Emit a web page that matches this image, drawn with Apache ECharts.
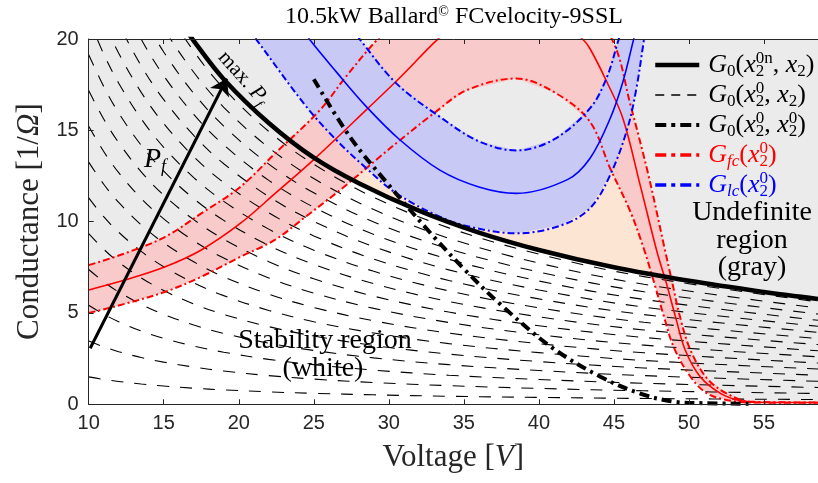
<!DOCTYPE html>
<html>
<head>
<meta charset="utf-8">
<script src="https://cdn.jsdelivr.net/npm/echarts@6.0.0/dist/echarts.min.js"></script>
<style>
  html, body { margin: 0; padding: 0; background: #fff; }
  #chart { width: 818px; height: 483px; }
</style>
</head>
<body>
<div id="chart"></div>
<script>
// ---- data ----
// family G0(x2^0, x2): one row per curve, sampled at famVolt
const famVolt = [10, 11, 12, 13.5, 15, 17, 19, 22, 25, 29, 34, 40, 47, 58.6]
const famRows = [
  [1.5, 1.36, 1.25, 1.11, 1.0, 0.88, 0.79, 0.68, 0.6, 0.52, 0.44, 0.38, 0.32, 0.26],
  [3.46, 3.15, 2.88, 2.56, 2.31, 2.04, 1.82, 1.57, 1.38, 1.19, 1.02, 0.87, 0.74, 0.59],
  [5.42, 4.93, 4.52, 4.01, 3.61, 3.19, 2.85, 2.46, 2.17, 1.87, 1.59, 1.36, 1.15, 0.92],
  [7.38, 6.71, 6.15, 5.47, 4.92, 4.34, 3.88, 3.35, 2.95, 2.54, 2.17, 1.85, 1.57, 1.26],
  [9.34, 8.49, 7.78, 6.92, 6.23, 5.49, 4.92, 4.25, 3.74, 3.22, 2.75, 2.34, 1.99, 1.59],
  [11.3, 10.27, 9.42, 8.37, 7.53, 6.65, 5.95, 5.14, 4.52, 3.9, 3.32, 2.83, 2.4, 1.93],
  [13.26, 12.05, 11.05, 9.82, 8.84, 7.8, 6.98, 6.03, 5.3, 4.57, 3.9, 3.32, 2.82, 2.26],
  [15.22, 13.84, 12.68, 11.27, 10.15, 8.95, 8.01, 6.92, 6.09, 5.25, 4.48, 3.81, 3.24, 2.6],
  [17.18, 15.62, 14.32, 12.73, 11.45, 10.11, 9.04, 7.81, 6.87, 5.92, 5.05, 4.3, 3.66, 2.93],
  [19.14, 17.4, 15.95, 14.18, 12.76, 11.26, 10.07, 8.7, 7.66, 6.6, 5.63, 4.79, 4.07, 3.27],
  [21.1, 19.18, 17.58, 15.63, 14.07, 12.41, 11.11, 9.59, 8.44, 7.28, 6.21, 5.28, 4.49, 3.6],
  [23.06, 20.96, 19.22, 17.08, 15.37, 13.56, 12.14, 10.48, 9.22, 7.95, 6.78, 5.77, 4.91, 3.94],
  [25.02, 22.75, 20.85, 18.53, 16.68, 14.72, 13.17, 11.37, 10.01, 8.63, 7.36, 6.26, 5.32, 4.27],
  [26.98, 24.53, 22.48, 19.99, 17.99, 15.87, 14.2, 12.26, 10.79, 9.3, 7.94, 6.75, 5.74, 4.6],
  [28.94, 26.31, 24.12, 21.44, 19.29, 17.02, 15.23, 13.15, 11.58, 9.98, 8.51, 7.24, 6.16, 4.94],
  [30.9, 28.09, 25.75, 22.89, 20.6, 18.18, 16.26, 14.05, 12.36, 10.66, 9.09, 7.73, 6.57, 5.27],
  [32.86, 29.87, 27.38, 24.34, 21.91, 19.33, 17.29, 14.94, 13.14, 11.33, 9.66, 8.22, 6.99, 5.61]
]

// G0(x2^0n, x2) - max power curve
const g0nVolt = [10, 12, 14, 16, 17, 19, 22, 25, 28, 32, 36, 40, 45, 50, 55, 58.6]
const g0nVal = [33.8, 28.2, 24.1, 21.1, 19.9, 17.8, 15.4, 13.5, 12.1, 10.6, 9.4, 8.45, 7.5, 6.76, 6.15, 5.77]

// G0(x2^0, x2^0)
const g00Volt = [25, 27.4, 29.9, 33, 35.2, 37.4, 40.8, 44.1, 46.7, 49, 51, 54.3]
const g00Val = [17.8, 14.65, 12.1, 9.17, 7.25, 5.5, 3.15, 1.51, 0.6, 0.14, 0.06, 0.03]

// Gfc(x2^0): lower bound, nominal, upper bound
const fcLowVolt = [10, 12.4, 15.1, 17.5, 20, 22.4, 24.5, 26.75, 29.4, 30.8, 33, 35.2, 38.5, 41.2, 43.4, 44.75, 46.1, 47, 47.7, 48.3, 49, 50.1, 51.2, 52.5, 54, 58.6]
const fcLowVal = [5.0, 5.5, 6.16, 6.98, 8.03, 9.0, 10.3, 11.73, 13.55, 14.5, 15.93, 17.2, 17.84, 17.0, 15.47, 12.92, 10.54, 8.5, 6.6, 4.9, 3.1, 1.51, 0.6, 0.24, 0.1, 0.08]
const fcMidVolt = [10, 12.4, 15.1, 17.5, 20.1, 22.5, 25, 28.6, 31, 33.2, 35.5, 38, 40.5, 42.9, 43.4, 44.5, 45.6, 46.75, 47.87, 48.5, 49.1, 49.75, 50.75, 52.1, 53.4, 55, 58.6]
const fcMidVal = [6.26, 6.8, 7.53, 8.45, 9.9, 11.6, 13.4, 16.2, 18.1, 19.94, 21.5, 22.2, 21.6, 20.0, 19.48, 17.7, 15.65, 12.0, 8.35, 6.62, 4.8, 2.97, 1.51, 0.6, 0.2, 0.1, 0.1]
const fcUpVolt = [10, 12.4, 15.1, 17.5, 20.1, 22.5, 25.4, 27.2, 29.2, 31.5, 34, 37, 40, 42.5, 44.9, 46.1, 47.3, 48.4, 48.9, 49.4, 50.1, 51.2, 52.5, 54.1, 58.6]
const fcUpVal = [7.62, 8.26, 9.17, 10.45, 11.9, 13.8, 16.1, 18.0, 19.94, 21.8, 23.2, 24.0, 23.8, 22.5, 19.94, 16.4, 12.55, 8.45, 6.62, 4.8, 2.97, 1.42, 0.6, 0.14, 0.1]

// Glc(x2^0): outer bound, nominal, inner bound
const lcOutVolt = [20.5, 21.2, 24.5, 26.5, 28.5, 30.5, 33.4, 35.5, 38.5, 41.5, 43.4, 44.75, 45.9, 46.5, 47.0, 47.3]
const lcOutVal = [20.7, 19.94, 16.3, 14.47, 12.92, 11.55, 10.27, 9.7, 9.36, 9.8, 10.73, 12.55, 15.1, 17.3, 19.94, 21.4]
const lcMidVolt = [24.5, 24.75, 26.5, 28.5, 30.75, 33.4, 36, 38.5, 41.9, 43.4, 44.75, 45.6, 46.3, 46.5]
const lcMidVal = [20.3, 19.94, 18.2, 16.3, 14.47, 12.82, 11.9, 11.55, 12.3, 13.46, 15.65, 17.66, 19.94, 20.6]
const lcInVolt = [27.9, 28.1, 30.5, 33.4, 36, 38.5, 41, 43.4, 44.5, 45.3, 45.5]
const lcInVal = [20.2, 19.94, 17.57, 15.74, 14.4, 13.9, 14.5, 16.2, 17.84, 19.94, 20.5]

// P_f arrow
const arrowFrom = [10.1, 3.07]
const arrowTo = [19.2, 17.84]

// ---- colours / fonts ----
const GRAY = '#ebebeb'
const PEACH = '#fde5d3'
const PINK = '#f8caca'
const LAVENDER = '#c9c9f6'
const RED = '#ff0000'
const BLUE = '#0000ff'
const SERIF = 'Liberation Serif'
const SANS = 'Liberation Sans'

const zip = (xs, ys) => xs.map((x, i) => [x, ys[i]])

const g0nPts = zip(g0nVolt, g0nVal)
const g00Pts = zip(g00Volt, g00Val)
const fcLowPts = zip(fcLowVolt, fcLowVal)
const fcMidPts = zip(fcMidVolt, fcMidVal)
const fcUpPts = zip(fcUpVolt, fcUpVal)
const lcOutPts = zip(lcOutVolt, lcOutVal)
const lcMidPts = zip(lcMidVolt, lcMidVal)
const lcInPts = zip(lcInVolt, lcInVal)

function area(points, color, z) {
  return {
    type: 'custom',
    coordinateSystem: 'cartesian2d',
    clip: true,
    silent: true,
    z: z,
    data: [[10, 0]],
    renderItem: function (params, api) {
      return {
        type: 'polygon',
        shape: { points: points.map(p => api.coord(p)) },
        style: { fill: color }
      }
    }
  }
}

function curve(name, pts, color, width, type, z) {
  return {
    type: 'line',
    name: name,
    data: pts,
    symbol: 'none',
    showSymbol: false,
    smooth: 0.35,
    silent: true,
    z: z,
    itemStyle: { color: color },
    lineStyle: { color: color, width: width, type: type, cap: 'butt' }
  }
}

let series = []
// fills, back to front
series.push(area([[8, -2]].concat(fcLowPts, [[60, -2]]), PEACH, 1))
series.push(area([[8, -2]].concat(g0nPts, [[60, -2]]), '#ffffff', 1))
series.push(area([[8, 40]].concat(fcLowPts, [[60, 40]]), GRAY, 1))
series.push(area(lcInPts, GRAY, 1))
series.push(area(fcUpPts.concat(fcLowPts.slice().reverse()), PINK, 1))
series.push(area(lcOutPts.concat(lcInPts.slice().reverse()), LAVENDER, 1))

// dashed family
famRows.forEach((row, i) => {
  series.push(curve(i === 0 ? 'G0' : 'G0_' + i, zip(famVolt, row), '#000', 1.1, [12, 11], 2))
})

const dashDot = [7, 3, 2, 3]
series.push(curve('Gfc', fcLowPts, RED, 2, dashDot, 3))
series.push(curve('Gfc_up', fcUpPts, RED, 2, dashDot, 3))
series.push(curve('Gfc_mid', fcMidPts, RED, 1.6, 'solid', 3))
series.push(curve('Glc', lcOutPts, BLUE, 2, dashDot, 3))
series.push(curve('Glc_in', lcInPts, BLUE, 2, dashDot, 3))
series.push(curve('Glc_mid', lcMidPts, BLUE, 1.6, 'solid', 3))
series.push(curve('G0n', g0nPts, '#000', 4.5, 'solid', 4))
series.push(curve('G00', g00Pts, '#000', 4, [10, 5, 3, 5], 4))

series.push({
  type: 'lines',
  coordinateSystem: 'cartesian2d',
  silent: true,
  z: 5,
  symbol: ['none', 'arrow'],
  symbolSize: [1, 16],
  lineStyle: { color: '#000', width: 3, opacity: 1 },
  data: [{ coords: [arrowFrom, arrowTo] }]
})

// ---- rich text styles ----
function mathRich(fontSize, subSize, colors) {
  const rich = {}
  Object.keys(colors).forEach(c => {
    const col = colors[c]
    rich['i' + c] = { fontFamily: SERIF, fontStyle: 'italic', fontSize: fontSize, lineHeight: fontSize + 4, color: col }
    rich['n' + c] = { fontFamily: SERIF, fontSize: fontSize, lineHeight: fontSize + 4, color: col }
    rich['d' + c] = { fontFamily: SERIF, fontSize: subSize, verticalAlign: 'bottom', color: col }
    rich['di' + c] = { fontFamily: SERIF, fontStyle: 'italic', fontSize: subSize, verticalAlign: 'bottom', color: col }
    rich['dz' + c] = { fontFamily: SERIF, fontSize: subSize, verticalAlign: 'bottom', width: 0, color: col }
    rich['u' + c] = { fontFamily: SERIF, fontSize: subSize, verticalAlign: 'top', color: col }
  })
  return rich
}

const legendText = {
  G0n: '{ik|G}{dk|0}{nk|(}{ik|x}{dzk|2}{uk|0n}{nk|, }{ik|x}{dk|2}{nk|)}',
  G0: '{ik|G}{dk|0}{nk|(}{ik|x}{dzk|2}{uk|0}{nk|, }{ik|x}{dk|2}{nk|)}',
  G00: '{ik|G}{dk|0}{nk|(}{ik|x}{dzk|2}{uk|0}{nk|, }{ik|x}{dzk|2}{uk|0}{nk|)}',
  Gfc: '{ir|G}{dir|fc}{nr|(}{ir|x}{dzr|2}{ur|0}{nr|)}',
  Glc: '{ib|G}{dib|lc}{nb|(}{ib|x}{dzb|2}{ub|0}{nb|)}'
}

const chart = echarts.init(document.getElementById('chart'), null, { renderer: 'canvas' })

const option = {
  animation: false,
  backgroundColor: '#ffffff',
  grid: {
    left: 88.7, top: 39, right: 0, bottom: 78.7,
    show: true, backgroundColor: GRAY, borderWidth: 0
  },
  xAxis: [
    {
      type: 'value', min: 10, max: 58.6, interval: 5, position: 'bottom', z: 10,
      axisLine: { show: true, onZero: false, lineStyle: { color: '#262626', width: 1 } },
      axisTick: { show: true, inside: true, length: 5, lineStyle: { color: '#262626' } },
      axisLabel: {
        color: '#262626', fontFamily: SANS, fontSize: 20, margin: 9, showMaxLabel: false,
        formatter: v => (v % 5 === 0 ? String(v) : '')
      },
      splitLine: { show: false },
      name: '{r|Voltage [}{i|V}{r|]}',
      nameLocation: 'middle',
      nameGap: 38,
      nameTextStyle: {
        rich: {
          r: { fontFamily: SERIF, fontSize: 31, color: '#262626' },
          i: { fontFamily: SERIF, fontStyle: 'italic', fontSize: 31, color: '#262626' }
        }
      }
    },
    {
      type: 'value', min: 10, max: 58.6, interval: 5, position: 'top', z: 10,
      axisLine: { show: true, onZero: false, lineStyle: { color: '#262626', width: 1 } },
      axisTick: { show: true, inside: true, length: 5, lineStyle: { color: '#262626' } },
      axisLabel: { show: false },
      splitLine: { show: false }
    }
  ],
  yAxis: {
    type: 'value', min: 0, max: 20, interval: 5, z: 10,
    axisLine: { show: true, onZero: false, lineStyle: { color: '#262626', width: 1 } },
    axisTick: { show: true, inside: true, length: 5, lineStyle: { color: '#262626' } },
    axisLabel: { color: '#262626', fontFamily: SANS, fontSize: 20, margin: 10 },
    splitLine: { show: false },
    name: '{r|Conductance [1/}{i|Ω}{r|]}',
    nameLocation: 'middle',
    nameGap: 38,
    nameTextStyle: {
      rich: {
        r: { fontFamily: SERIF, fontSize: 31, color: '#262626' },
        i: { fontFamily: SERIF, fontStyle: 'italic', fontSize: 31, color: '#262626' }
      }
    }
  },
  legend: {
    orient: 'vertical',
    left: 648,
    top: 45,
    itemWidth: 44,
    itemHeight: 14,
    itemGap: 0,
    selectedMode: false,
    itemStyle: { opacity: 0 },
    data: [
      { name: 'G0n', lineStyle: { width: 4.5, type: 'solid' } },
      { name: 'G0', lineStyle: { type: [9, 7], width: 1.6 } },
      { name: 'G00', lineStyle: { width: 4, type: [11, 5, 4, 5] } },
      { name: 'Gfc', lineStyle: { width: 3.5, type: [11, 5, 4, 5] } },
      { name: 'Glc', lineStyle: { width: 3.5, type: [11, 5, 4, 5] } }
    ],
    formatter: name => legendText[name],
    textStyle: {
      padding: [0, 0, 0, 4],
      rich: mathRich(26, 17, { k: '#000', r: RED, b: BLUE })
    }
  },
  graphic: [
    {
      type: 'text', x: 454, y: 17, z: 20,
      style: {
        text: '{t|10.5kW Ballard}{s|©}{t| FCvelocity-9SSL}',
        align: 'center', verticalAlign: 'middle',
        rich: {
          t: { fontFamily: SERIF, fontSize: 24, fill: '#000' },
          s: { fontFamily: SERIF, fontSize: 14, verticalAlign: 'top', fill: '#000' }
        }
      }
    },
    {
      type: 'text', x: 325, y: 341, z: 20,
      style: { text: 'Stability region', fontFamily: SERIF, fontSize: 28, fill: '#000', align: 'center', verticalAlign: 'middle' }
    },
    {
      type: 'text', x: 323, y: 369, z: 20,
      style: { text: '(white)', fontFamily: SERIF, fontSize: 28, fill: '#000', align: 'center', verticalAlign: 'middle' }
    },
    {
      type: 'text', x: 752, y: 213, z: 20,
      style: { text: 'Undefinite', fontFamily: SERIF, fontSize: 28, fill: '#000', align: 'center', verticalAlign: 'middle' }
    },
    {
      type: 'text', x: 752, y: 241, z: 20,
      style: { text: 'region', fontFamily: SERIF, fontSize: 28, fill: '#000', align: 'center', verticalAlign: 'middle' }
    },
    {
      type: 'text', x: 752, y: 268, z: 20,
      style: { text: '(gray)', fontFamily: SERIF, fontSize: 28, fill: '#000', align: 'center', verticalAlign: 'middle' }
    },
    {
      type: 'text', x: 155, y: 160, z: 20,
      style: {
        text: '{i|P}{d|f}', align: 'center', verticalAlign: 'middle',
        rich: {
          i: { fontFamily: SERIF, fontStyle: 'italic', fontSize: 28, lineHeight: 32, fill: '#000' },
          d: { fontFamily: SERIF, fontStyle: 'italic', fontSize: 18, verticalAlign: 'bottom', fill: '#000' }
        }
      }
    },
    {
      type: 'text', x: 243, y: 78, z: 20, rotation: -0.84,
      style: {
        text: '{r|max. }{i|P}{d|f}', align: 'center', verticalAlign: 'middle',
        rich: {
          r: { fontFamily: SERIF, fontSize: 21, lineHeight: 26, fill: '#000' },
          i: { fontFamily: SERIF, fontStyle: 'italic', fontSize: 22, lineHeight: 26, fill: '#000' },
          d: { fontFamily: SERIF, fontStyle: 'italic', fontSize: 14, verticalAlign: 'bottom', fill: '#000' }
        }
      }
    }
  ],
  series: series
}

chart.setOption(option)
</script>
</body>
</html>
